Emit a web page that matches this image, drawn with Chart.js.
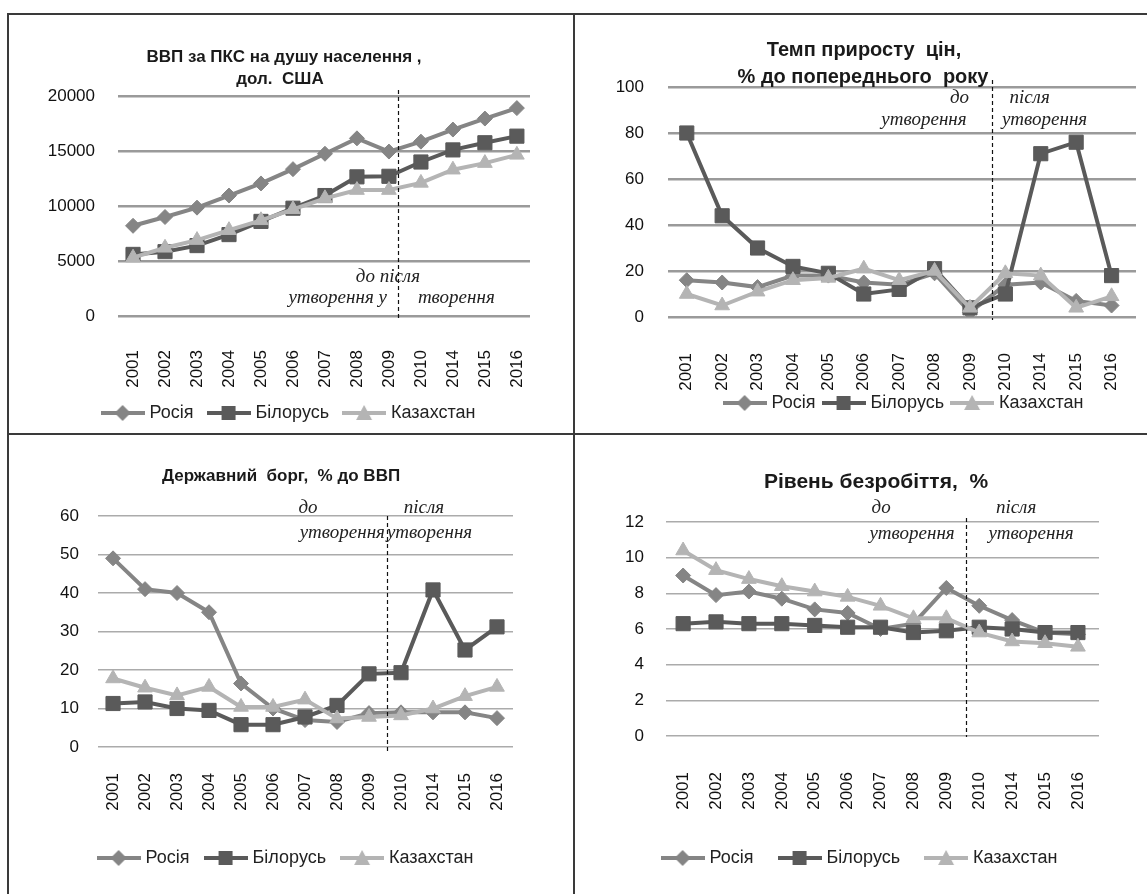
<!DOCTYPE html>
<html lang="uk">
<head>
<meta charset="utf-8">
<title>Росія, Білорусь, Казахстан</title>
<script src="https://cdn.jsdelivr.net/npm/chart.js@4.4.1/dist/chart.umd.min.js"></script>
<style>
  html, body { margin: 0; padding: 0; background: #fff; }
  #page { position: relative; width: 1147px; height: 894px; overflow: hidden; }
  #page canvas { position: absolute; }
  .rule { position: absolute; background: #3a3a3a; }
</style>
</head>
<body>
<div id="page">
  <div class="rule" style="left:7px; top:13px; width:1140px; height:2px"></div>
  <div class="rule" style="left:7px; top:13px; width:2px; height:881px"></div>
  <div class="rule" style="left:573px; top:13px; width:2px; height:881px"></div>
  <div class="rule" style="left:7px; top:433px; width:1140px; height:2px"></div>
  <canvas id="gdp" width="564" height="418" style="left:9px; top:15px"></canvas>
  <canvas id="prices" width="572" height="418" style="left:575px; top:15px"></canvas>
  <canvas id="debt" width="564" height="459" style="left:9px; top:435px"></canvas>
  <canvas id="unemp" width="572" height="459" style="left:575px; top:435px"></canvas>
</div>
<script>
const years = ['2001', '2002', '2003', '2004', '2005', '2006', '2007', '2008', '2009', '2010', '2014', '2015', '2016'];
const countries = ['Росія', 'Білорусь', 'Казахстан'];

// ВВП за ПКС на душу населення, дол. США
const gdpRussia = [8200, 9000, 9850, 10950, 12050, 13350, 14750, 16150, 14950, 15850, 16950, 17950, 18900];
const gdpBelarus = [5600, 5850, 6400, 7400, 8600, 9800, 10950, 12650, 12700, 14000, 15100, 15750, 16350];
const gdpKazakhstan = [5300, 6200, 6900, 7800, 8700, 9700, 10700, 11450, 11450, 12100, 13300, 13900, 14650];
const gdpTicks = [0, 5000, 10000, 15000, 20000];

// Темп приросту цін, % до попереднього року
const priceRussia = [16, 15, 13, 18, 18, 15, 14, 19, 2, 14, 15, 7, 5];
const priceBelarus = [80, 44, 30, 22, 19, 10, 12, 21, 4, 10, 71, 76, 18];
const priceKazakhstan = [10, 5, 11, 16, 17, 21, 16, 20, 4, 19, 18, 4, 9];
const priceTicks = [0, 20, 40, 60, 80, 100];

// Державний борг, % до ВВП
const debtRussia = [49, 41, 40, 35, 16.5, 10, 7, 6.5, 8.8, 9, 9, 9, 7.5];
const debtBelarus = [11.3, 11.7, 10, 9.5, 5.8, 5.8, 7.8, 10.8, 19, 19.3, 40.8, 25.2, 31.2];
const debtKazakhstan = [17.8, 15.4, 13.4, 15.6, 10.4, 10.4, 12.3, 7.4, 7.8, 8.2, 10, 13.2, 15.6];
const debtTicks = [0, 10, 20, 30, 40, 50, 60];

// Рівень безробіття, %
const unempRussia = [9.0, 7.9, 8.1, 7.7, 7.1, 6.9, 6.0, 6.3, 8.3, 7.3, 6.5, 5.8, 5.7];
const unempBelarus = [6.3, 6.4, 6.3, 6.3, 6.2, 6.1, 6.1, 5.8, 5.9, 6.1, 6.0, 5.8, 5.8];
const unempKazakhstan = [10.4, 9.3, 8.8, 8.4, 8.1, 7.8, 7.3, 6.6, 6.6, 5.8, 5.3, 5.2, 5.0];
const unempTicks = [0, 2, 4, 6, 8, 10, 12];

const colors = ['#858585', '#5a5a5a', '#b4b4b4'];
const shapes = ['rectRot', 'rect', 'triangle'];
const radii = [7.5, 10, 8.5];

Chart.defaults.font.family = "'Liberation Sans', Arial, sans-serif";
Chart.defaults.font.size = 17;
Chart.defaults.color = '#111';

// line with a marker in the middle, like the Excel legend
function legendIcon(color, shape) {
    const c = document.createElement('canvas');
    c.width = 44;
    c.height = 20;
    const g = c.getContext('2d');
    g.strokeStyle = color;
    g.lineWidth = 4;
    g.beginPath();
    g.moveTo(0, 10);
    g.lineTo(44, 10);
    g.stroke();
    g.fillStyle = color;
    g.beginPath();
    if (shape === 'rectRot') {
        g.moveTo(22, 2); g.lineTo(30, 10); g.lineTo(22, 18); g.lineTo(14, 10);
    } else if (shape === 'rect') {
        g.rect(15, 3, 14, 14);
    } else {
        g.moveTo(22, 2); g.lineTo(30, 17); g.lineTo(14, 17);
    }
    g.closePath();
    g.fill();
    return c;
}
const legendIcons = colors.map((c, i) => legendIcon(c, shapes[i]));

// dashed "до / після утворення" line, notes and titles
const overlay = {
    id: 'overlay',
    afterDatasetsDraw(chart, args, opts) {
        const { ctx, chartArea, scales } = chart;
        const x = Math.round(scales.x.getPixelForValue(opts.split)) + 0.5;
        ctx.save();
        ctx.strokeStyle = '#111';
        ctx.lineWidth = 1.2;
        ctx.setLineDash([4, 3]);
        ctx.beginPath();
        ctx.moveTo(x, chartArea.top - opts.over[0]);
        ctx.lineTo(x, chartArea.bottom + opts.over[1]);
        ctx.stroke();
        ctx.restore();
    },
    afterDraw(chart, args, opts) {
        const { ctx, scales } = chart;
        const x = scales.x.getPixelForValue(opts.split);
        ctx.save();
        ctx.textBaseline = 'middle';
        ctx.fillStyle = '#1a1a1a';
        ctx.font = 'bold ' + opts.titleSize + "px 'Liberation Sans', Arial, sans-serif";
        ctx.textAlign = 'center';
        opts.title.forEach(t => ctx.fillText(t[0], t[1], t[2]));
        ctx.font = "italic 19px 'Liberation Serif', 'Times New Roman', serif";
        ctx.fillStyle = '#222';
        opts.notes.forEach(n => {
            ctx.textAlign = n[3];
            ctx.fillText(n[0], x + n[1], n[2]);
        });
        ctx.restore();
    }
};

// tick labels may run past the fixed-size axis boxes, so no clipping
const noClip = s => { s._computeLabelArea = () => undefined; };

function drawPanel(id, series, yTicks, cfg) {
    return new Chart(document.getElementById(id), {
        type: 'line',
        data: {
            datasets: series.map((values, k) => ({
                label: countries[k],
                data: values.map((v, i) => ({ x: i, y: v })),
                borderColor: colors[k],
                backgroundColor: colors[k],
                pointBackgroundColor: colors[k],
                pointBorderColor: colors[k],
                borderWidth: cfg.lineWidth,
                pointStyle: shapes[k],
                pointRadius: radii[k],
                pointBorderWidth: 1,
                tension: 0,
                order: 3 - k
            }))
        },
        options: {
            responsive: false,
            animation: false,
            events: [],
            layout: { padding: cfg.pad },
            plugins: {
                tooltip: { enabled: false },
                legend: {
                    position: 'bottom',
                    labels: {
                        usePointStyle: true,
                        pointStyleWidth: 36,
                        padding: cfg.legendGap,
                        font: { size: 18 },
                        color: '#222',
                        generateLabels: chart => chart.data.datasets.map((ds, i) => ({
                            text: ds.label,
                            pointStyle: legendIcons[i],
                            fillStyle: ds.borderColor,
                            strokeStyle: ds.borderColor,
                            lineWidth: 0,
                            hidden: false,
                            fontColor: '#222',
                            datasetIndex: i
                        }))
                    }
                },
                overlay: cfg.overlay
            },
            scales: {
                x: {
                    type: 'linear',
                    min: cfg.xRange[0],
                    max: cfg.xRange[1],
                    afterBuildTicks: s => { s.ticks = years.map((y, i) => ({ value: i })); },
                    afterFit: s => { s.height = cfg.xH; s.paddingLeft = 0; s.paddingRight = 0; noClip(s); },
                    ticks: {
                        autoSkip: false,
                        minRotation: 90,
                        maxRotation: 90,
                        padding: cfg.xPad,
                        callback: v => years[v]
                    },
                    grid: { display: false, drawTicks: false },
                    border: { display: false }
                },
                y: {
                    min: yTicks[0],
                    max: yTicks[yTicks.length - 1],
                    afterBuildTicks: s => { s.ticks = yTicks.map(v => ({ value: v })); },
                    afterFit: s => { s.width = cfg.yW; s.paddingTop = 0; s.paddingBottom = 0; noClip(s); },
                    ticks: { padding: cfg.yPad, callback: v => String(v) },
                    grid: { color: cfg.gridColor, lineWidth: cfg.gridWidth, drawTicks: false },
                    border: { display: false }
                }
            }
        },
        plugins: [overlay]
    });
}

drawPanel('gdp', [gdpRussia, gdpBelarus, gdpKazakhstan], gdpTicks, {
    pad: { left: 41, right: 43, top: 81, bottom: 1 },
    yW: 68, yPad: 23, xH: 71, xPad: 34, xRange: [-0.47, 12.41],
    legendGap: 17, lineWidth: 4, gridColor: '#9a9a9a', gridWidth: 2.5,
    overlay: {
        split: 8.28, over: [6, 4], titleSize: 17,
        title: [['ВВП за ПКС на душу населення ,', 275, 42], ['дол.  США', 271, 64]],
        notes: [['до після', -10, 262, 'center'], ['утворення у', -11, 283, 'right'], ['творення', 20, 283, 'left']]
    }
});

drawPanel('prices', [priceRussia, priceBelarus, priceKazakhstan], priceTicks, {
    pad: { left: 90, right: 2, top: 72, bottom: 11 },
    yW: 3, yPad: 24, xH: 67, xPad: 36, xRange: [-0.53, 12.69],
    legendGap: 10, lineWidth: 4, gridColor: '#9a9a9a', gridWidth: 2.5,
    overlay: {
        split: 8.61, over: [7, 3], titleSize: 20,
        title: [['Темп приросту  цін,', 289, 35], ['% до попереднього  року', 288, 62]],
        notes: [['до', -32, 83, 'center'], ['утворення', -25, 105, 'right'], ['після', 38, 83, 'center'], ['утворення', 53, 105, 'center']]
    }
});

drawPanel('debt', [debtRussia, debtBelarus, debtKazakhstan], debtTicks, {
    pad: { left: 52, right: 60, top: 81, bottom: 17 },
    yW: 37, yPad: 19, xH: 84, xPad: 26, xRange: [-0.47, 12.5],
    legendGap: 18, lineWidth: 4, gridColor: '#ababab', gridWidth: 1.5,
    overlay: {
        split: 8.56, over: [0, 5], titleSize: 17,
        title: [['Державний  борг,  % до ВВП', 272, 41]],
        notes: [['до', -79, 73, 'center'], ['утворення', -2, 98, 'right'], ['після', 37, 73, 'center'], ['утворення', 0, 98, 'left']]
    }
});

drawPanel('unemp', [unempRussia, unempBelarus, unempKazakhstan], unempTicks, {
    pad: { left: 48, right: 48, top: 87, bottom: 17 },
    yW: 43, yPad: 22, xH: 85, xPad: 36, xRange: [-0.52, 12.64],
    legendGap: 28, lineWidth: 4, gridColor: '#ababab', gridWidth: 1.5,
    overlay: {
        split: 8.6, over: [4, 1], titleSize: 21,
        title: [['Рівень безробіття,  %', 301, 47]],
        notes: [['до', -85, 73, 'center'], ['утворення', -54, 99, 'center'], ['після', 50, 73, 'center'], ['утворення', 65, 99, 'center']]
    }
});
</script>
</body>
</html>
